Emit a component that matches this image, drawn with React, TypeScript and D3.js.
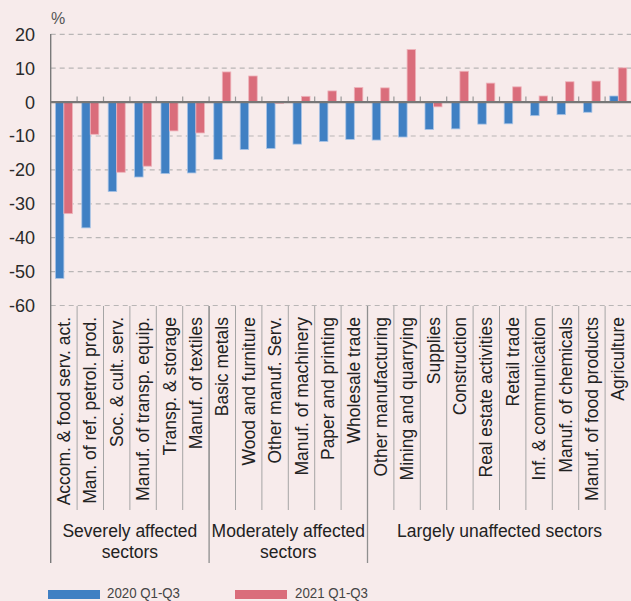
import React from "react";
import * as d3 from "d3";

const categories: string[] = [
  "Accom. & food serv. act.",
  "Man. of ref. petrol. prod.",
  "Soc. & cult. serv.",
  "Manuf. of transp. equip.",
  "Transp. & storage",
  "Manuf. of textiles",
  "Basic metals",
  "Wood and furniture",
  "Other manuf. Serv.",
  "Manuf. of machinery",
  "Paper and printing",
  "Wholesale trade",
  "Other manufacturing",
  "Mining and quarrying",
  "Supplies",
  "Construction",
  "Real estate activities",
  "Retail trade",
  "Inf. & communication",
  "Manuf. of chemicals",
  "Manuf. of food products",
  "Agriculture",
];

const values2020: number[] = [
  -52.0, -37.1, -26.4, -22.1, -21.1, -20.9, -16.9, -14.0, -13.7, -12.4, -11.6,
  -11.0, -11.2, -10.3, -8.1, -7.9, -6.5, -6.4, -4.0, -3.7, -3.0, 1.8,
];

const values2021: number[] = [
  -32.9, -9.5, -20.7, -18.9, -8.5, -9.1, 8.9, 7.7, -0.4, 1.7, 3.3, 4.3, 4.2,
  15.5, -1.4, 9.1, 5.6, 4.5, 1.8, 6.0, 6.2, 10.1,
];

const seriesNames: string[] = ["2020 Q1-Q3", "2021 Q1-Q3"];

const groups: { lines: string[]; start: number; end: number }[] = [
  { lines: ["Severely affected", "sectors"], start: 0, end: 6 },
  { lines: ["Moderately affected", "sectors"], start: 6, end: 12 },
  { lines: ["Largely unaffected sectors"], start: 12, end: 22 },
];

const yTicks: number[] = [20, 10, 0, -10, -20, -30, -40, -50, -60];

const W = 631;
const H = 601;
const BG = "#f7ebeb";
const BLUE = "#4080c3";
const RED = "#da6d7b";
const FONT = "'Liberation Sans', Arial, Helvetica, sans-serif";

export default function App() {
  const left = 50.7;
  const right = 631.5;
  const x = d3.scaleBand<string>().domain(categories).range([left, right]).padding(0);
  const x1 = d3
    .scaleBand<string>()
    .domain(seriesNames)
    .range([0, x.bandwidth()])
    .paddingInner(0)
    .paddingOuter(0.55);
  const y = d3.scaleLinear().domain([-60, 20]).range([305.5, 34.3]);
  const step = x.step();
  const labelTop = 306;
  const sepBottom = 510;
  const groupBottom = 563;

  const bar = (v: number, i: number, s: number) => {
    const cx = (x(categories[i]) as number) + (x1(seriesNames[s]) as number);
    const y0 = y(0);
    const yv = y(v);
    return (
      <rect
        key={`${s}-${i}`}
        x={cx}
        y={Math.min(y0, yv)}
        width={x1.bandwidth()}
        height={Math.abs(yv - y0)}
        fill={s === 0 ? BLUE : RED}
        stroke={s === 0 ? "#a9c4e6" : "#eeb3bb"}
        strokeWidth={0.8}
      />
    );
  };

  return (
    <svg
      width={W}
      height={H}
      style={{ position: "absolute", left: 0, top: 0, background: BG, display: "block" }}
      fontFamily={FONT}
    >
      <rect x={0} y={0} width={W} height={H} fill={BG} />
      {/* gridlines */}
      {yTicks.map((t) => (
        <line
          key={`g${t}`}
          x1={left}
          x2={W}
          y1={y(t)}
          y2={y(t)}
          stroke="#b9b6b6"
          strokeWidth={1.2}
          strokeDasharray="5,4"
        />
      ))}
      {/* y tick labels */}
      {yTicks.map((t) => (
        <text
          key={`t${t}`}
          x={35}
          y={y(t)}
          dy="0.36em"
          textAnchor="end"
          fontSize={18}
          fill="#2a2a2a"
        >
          {t}
        </text>
      ))}
      <text x={51} y={24} fontSize={16} fill="#555">
        %
      </text>
      {/* bars */}
      {values2020.map((v, i) => bar(v, i, 0))}
      {values2021.map((v, i) => bar(v, i, 1))}
      {/* zero line ticks */}
      {categories.map((c, i) =>
        i === 0 ? null : (
          <line
            key={`zt${i}`}
            x1={x(c) as number}
            x2={x(c) as number}
            y1={y(0) - 5.5}
            y2={y(0)}
            stroke="#999"
            strokeWidth={1.2}
          />
        )
      )}
      <line x1={left} x2={W} y1={y(0)} y2={y(0)} stroke="#777" strokeWidth={2.4} />
      {/* y axis */}
      <line x1={left} x2={left} y1={34} y2={groupBottom} stroke="#7a7a7a" strokeWidth={1.4} />
      {/* category separators */}
      {categories.map((c, i) =>
        i === 0 ? null : (
          <line
            key={`s${i}`}
            x1={x(c) as number}
            x2={x(c) as number}
            y1={labelTop}
            y2={sepBottom}
            stroke="#a5a5a5"
            strokeWidth={1}
          />
        )
      )}
      {/* group separators */}
      {groups.map((g, gi) =>
        gi === 0 ? null : (
          <line
            key={`gs${gi}`}
            x1={left + g.start * step}
            x2={left + g.start * step}
            y1={labelTop}
            y2={groupBottom}
            stroke="#8f8f8f"
            strokeWidth={1.3}
          />
        )
      )}
      {/* category labels */}
      {categories.map((c) => {
        const cx = (x(c) as number) + x.bandwidth() / 2;
        return (
          <text
            key={`l${c}`}
            transform={`translate(${cx},${labelTop + 11}) rotate(-90)`}
            textAnchor="end"
            dominantBaseline="central"
            fontSize={17.5}
            fill="#222"
          >
            {c}
          </text>
        );
      })}
      {/* group labels */}
      {groups.map((g, gi) => {
        const cx = left + ((g.start + g.end) / 2) * step;
        return (
          <text key={`gl${gi}`} x={cx} y={537} textAnchor="middle" fontSize={17.5} fill="#222">
            {g.lines.map((ln, li) => (
              <tspan key={li} x={cx} dy={li === 0 ? 0 : 21}>
                {ln}
              </tspan>
            ))}
          </text>
        );
      })}
      {/* legend */}
      <rect x={48} y={590} width={52} height={9} fill={BLUE} />
      <text
        x={107}
        y={598}
        fontSize={14}
        fill="#444"
        textLength={73}
        lengthAdjust="spacingAndGlyphs"
      >
        {seriesNames[0]}
      </text>
      <rect x={235} y={590} width={52} height={9} fill={RED} />
      <text
        x={295}
        y={598}
        fontSize={14}
        fill="#444"
        textLength={73}
        lengthAdjust="spacingAndGlyphs"
      >
        {seriesNames[1]}
      </text>
    </svg>
  );
}
